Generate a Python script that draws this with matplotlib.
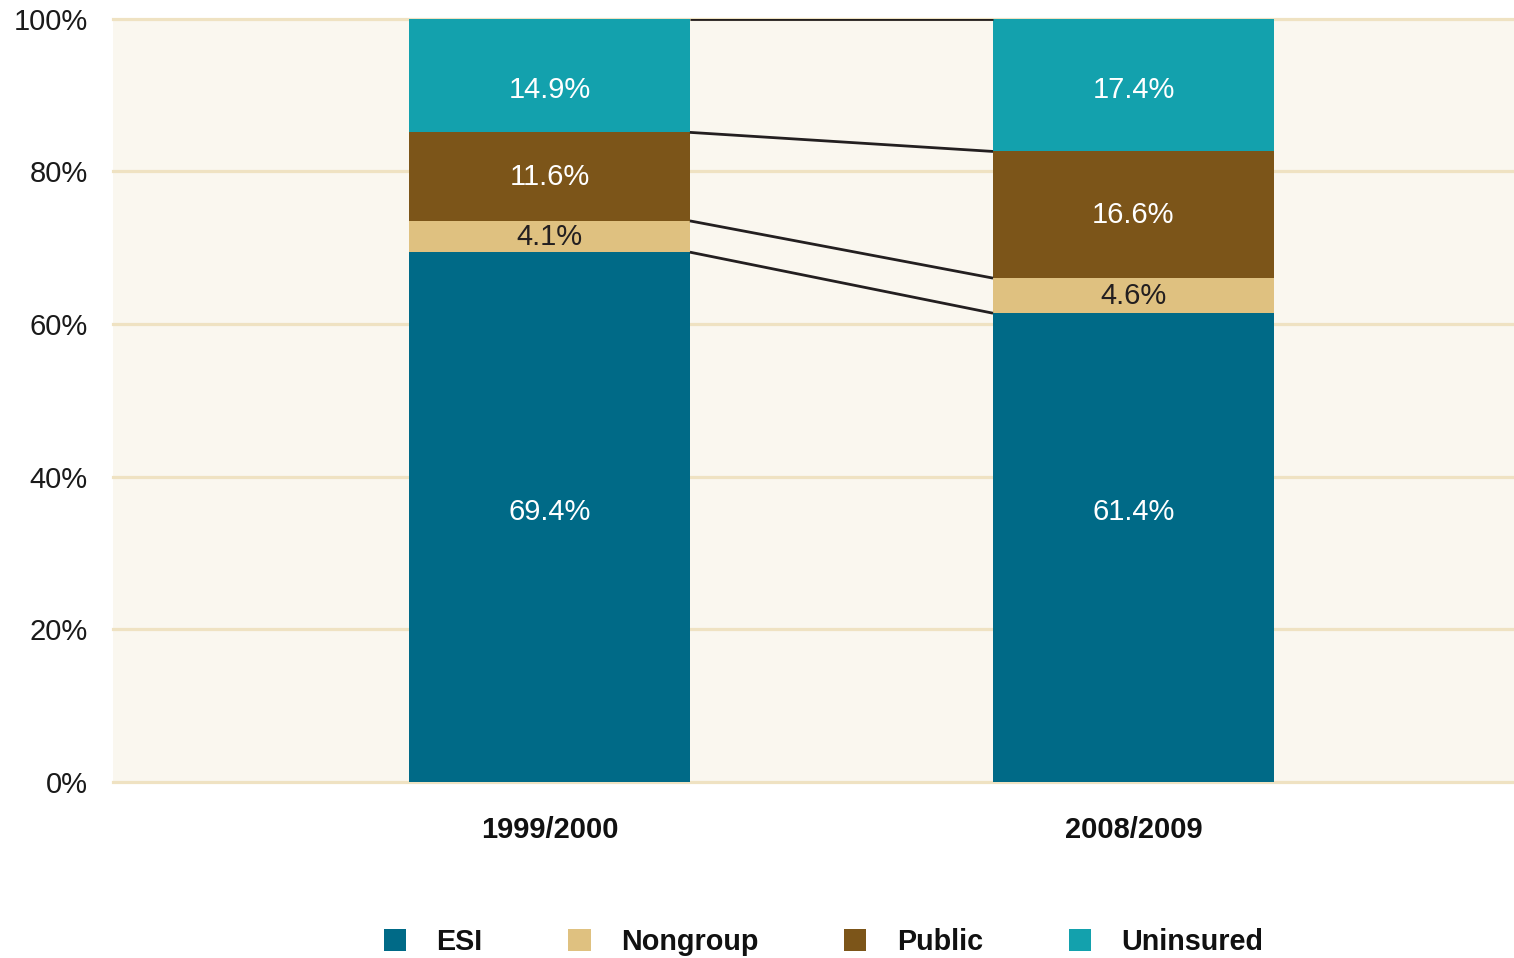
import numpy as np
import matplotlib
matplotlib.use('Agg')
import matplotlib.pyplot as plt
from matplotlib.patches import Patch

plt.rcParams['font.family'] = ['Liberation Sans', 'DejaVu Sans']

# Dados
periodos = ['1999/2000', '2008/2009']
categorias = ['ESI', 'Nongroup', 'Public', 'Uninsured']
esi = [69.4, 61.4]
nongroup = [4.1, 4.6]
public = [11.6, 16.6]
uninsured = [14.9, 17.4]

cores = ['#006a87', '#dfc180', '#7c5519', '#13a1ad']
cor_texto = ['white', '#231f20', 'white', 'white']
fundo = '#faf7ef'
cor_grade = '#efe2c2'

series = [esi, nongroup, public, uninsured]
x = np.arange(len(periodos))
largura = 0.481

fig = plt.figure(figsize=(15.14, 9.58), dpi=100)
ax = fig.add_axes([0.0746, 0.184, 0.9254, 0.7965])
ax.set_facecolor(fundo)

base = np.zeros(len(periodos))
topos = []
for serie, cor, ctxt, nome in zip(series, cores, cor_texto, categorias):
    vals = np.array(serie)
    ax.bar(x, vals, largura, bottom=base, color=cor, zorder=3, label=nome)
    for i, v in enumerate(vals):
        if nome == 'ESI':
            y = 35.3
        elif nome == 'Uninsured':
            y = 90.6
        else:
            y = base[i] + v / 2
        ax.text(x[i], y, f'{v:.1f}%', ha='center', va='center',
                fontsize=21, color=ctxt, zorder=4)
    base = base + vals
    topos.append(base.copy())

# linhas de ligação entre as barras
for t in topos:
    ax.plot([x[0] + largura / 2, x[1] - largura / 2], [t[0], t[1]],
            color='#231f20', lw=2.0, zorder=4, solid_capstyle='butt')

ax.set_xlim(-0.7474, 1.6515)
ax.set_ylim(0, 100)
ax.set_yticks(range(0, 101, 20))
ax.set_yticklabels([f'{v}%' for v in range(0, 101, 20)], fontsize=21, color='#1a1a1a')
ax.set_xticks(x)
ax.set_xticklabels(periodos, fontsize=21, fontweight='bold', color='#111111')
ax.tick_params(axis='y', length=0, pad=18)
ax.tick_params(axis='x', length=0, pad=25)
ax.yaxis.grid(True, color=cor_grade, lw=2.3, zorder=1)
for gl in ax.get_ygridlines():
    gl.set_clip_on(False)
ax.set_axisbelow(True)
for s in ax.spines.values():
    s.set_visible(False)

handles = [Patch(facecolor=c, edgecolor='none', label=n) for c, n in zip(cores, categorias)]
leg = fig.legend(handles=handles, loc='center', ncol=4, frameon=False,
                 bbox_to_anchor=(823.5 / 1514, 1 - 942 / 958),
                 prop={'size': 20.7, 'weight': 'bold'},
                 handlelength=0.77, handleheight=0.77, handletextpad=1.05,
                 columnspacing=3.0)
for t in leg.get_texts():
    t.set_color('#111111')

fig.savefig('out.png', dpi=100, facecolor='white')
